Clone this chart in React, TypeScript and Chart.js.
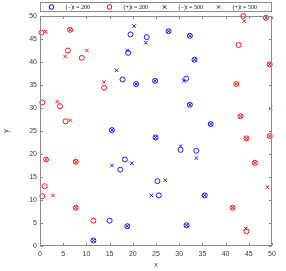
import React, { useEffect, useRef } from 'react';
import { Chart, registerables } from 'chart.js';

Chart.register(...registerables);

// ---- data ----
const legendLabels = ['(−)t = 200', '(+)t = 200', '(−)t = 500', '(+)t = 500'];
const axisMin = 0;
const axisMax = 50;
const tickStep = 5;

const negT200X = [19.5, 23.0, 19.0, 17.8, 20.7, 24.8, 15.5, 27.7, 32.3, 33.3, 31.5, 32.3, 36.8, 24.9, 30.3, 33.7, 25.3, 25.6, 35.5, 31.6, 15.0, 11.5, 18.8, 17.3, 18.3];
const negT200Y = [46.0, 45.4, 42.0, 36.2, 35.2, 35.9, 25.2, 46.7, 45.7, 40.5, 36.4, 30.7, 26.5, 23.6, 20.9, 20.7, 14.1, 11.0, 11.0, 4.5, 5.5, 1.2, 4.3, 16.6, 18.8];

const posT200X = [0.3, 6.5, 6.0, 9.0, 13.8, 4.3, 0.5, 5.5, 42.8, 43.8, 48.7, 49.5, 42.3, 43.2, 44.5, 49.5, 46.3, 41.5, 44.5, 1.3, 7.7, 1.0, 0.5, 7.7, 11.5];
const posT200Y = [46.4, 47.0, 42.5, 40.9, 34.4, 30.4, 31.2, 27.1, 43.7, 50.0, 49.6, 39.5, 35.2, 28.2, 23.4, 23.9, 18.1, 8.3, 3.2, 18.8, 18.3, 13.0, 10.8, 8.3, 5.5];

const negT500X = [20.3, 22.8, 18.8, 16.5, 20.7, 24.8, 15.5, 27.7, 32.3, 33.3, 31.0, 32.3, 36.8, 24.9, 30.3, 33.7, 27.0, 24.0, 35.5, 31.6, 11.5, 18.8, 15.5, 19.8];
const negT500Y = [47.8, 44.2, 42.5, 38.2, 35.2, 35.9, 25.2, 46.7, 45.7, 40.5, 35.9, 30.7, 26.5, 23.6, 21.7, 19.1, 14.3, 11.0, 11.0, 4.5, 1.2, 4.3, 17.5, 18.0];

const posT500X = [1.2, 6.5, 5.4, 10.1, 13.8, 3.7, 6.5, 44.0, 48.7, 49.5, 42.3, 49.7, 43.2, 44.5, 49.5, 46.3, 49.0, 41.5, 44.3, 1.3, 7.7, 2.8, 7.7];
const posT500Y = [46.6, 47.0, 41.2, 42.5, 35.6, 31.4, 27.3, 48.9, 49.6, 39.5, 35.2, 29.9, 28.2, 23.4, 23.9, 18.1, 12.8, 8.3, 3.8, 18.8, 18.3, 11.0, 8.3];

const toPoints = (xs: number[], ys: number[]) => xs.map((x, i) => ({ x, y: ys[i] }));

const BLUE = '#0000ff';
const RED = '#ff0000';
const AXIS = '#8a8a8a';
const TEXT = '#3a3a3a';
const SANS = '"Liberation Sans", Arial, Helvetica, sans-serif';
const SERIF = '"Liberation Serif", "DejaVu Serif", serif';

const seriesStyle = [
  { color: BLUE, style: 'circle' },
  { color: RED, style: 'circle' },
  { color: BLUE, style: 'crossRot' },
  { color: RED, style: 'crossRot' },
];

const boxPlugin = {
  id: 'matlabBox',
  afterDraw(chart: any) {
    const { ctx, chartArea: a, scales } = chart;
    const xs = scales.x;
    const ys = scales.y;
    ctx.save();
    ctx.strokeStyle = AXIS;
    ctx.lineWidth = 1;
    const L = Math.round(a.left) + 0.5;
    const R = Math.round(a.right) - 0.5;
    const T = Math.round(a.top) + 0.5;
    const B = Math.round(a.bottom) - 0.5;
    ctx.strokeRect(L, T, R - L, B - T);
    const tl = 2.5;
    ctx.beginPath();
    for (let v = axisMin; v <= axisMax; v += tickStep) {
      const px = Math.round(xs.getPixelForValue(v)) + 0.5;
      ctx.moveTo(px, B); ctx.lineTo(px, B - tl);
      ctx.moveTo(px, T); ctx.lineTo(px, T + tl);
      const py = Math.round(ys.getPixelForValue(v)) + 0.5;
      ctx.moveTo(L, py); ctx.lineTo(L + tl, py);
      ctx.moveTo(R, py); ctx.lineTo(R - tl, py);
    }
    ctx.stroke();

    // legend box
    const lgTop = 2.5;
    const lgBot = 11.5;
    ctx.fillStyle = '#ffffff';
    ctx.fillRect(L, lgTop, R - L, lgBot - lgTop);
    ctx.strokeStyle = AXIS;
    ctx.strokeRect(L, lgTop, R - L, lgBot - lgTop);
    const markerOffsets = [11, 69, 124, 178];
    const cy = (lgTop + lgBot) / 2;
    ctx.font = `6px ${SERIF}`;
    ctx.textBaseline = 'middle';
    ctx.textAlign = 'left';
    legendLabels.forEach((label, i) => {
      const mx = L + markerOffsets[i];
      const s = seriesStyle[i];
      ctx.strokeStyle = s.color;
      ctx.lineWidth = 1;
      ctx.beginPath();
      if (s.style === 'circle') {
        ctx.arc(mx, cy, 2.3, 0, Math.PI * 2);
      } else {
        const r = 1.7;
        ctx.moveTo(mx - r, cy - r); ctx.lineTo(mx + r, cy + r);
        ctx.moveTo(mx - r, cy + r); ctx.lineTo(mx + r, cy - r);
      }
      ctx.stroke();
      ctx.fillStyle = '#111111';
      ctx.fillText(label, mx + 14, cy + 0.5);
    });
    ctx.restore();
  },
};

export default function App() {
  const ref = useRef<HTMLCanvasElement | null>(null);
  useEffect(() => {
    document.body.style.margin = '0';
    const canvas = ref.current;
    if (!canvas) return;
    const seriesData = [
      toPoints(negT200X, negT200Y),
      toPoints(posT200X, posT200Y),
      toPoints(negT500X, negT500Y),
      toPoints(posT500X, posT500Y),
    ];
    const chart = new Chart(canvas, {
      type: 'scatter',
      data: {
        datasets: seriesData.map((d, i) => ({
          label: legendLabels[i],
          data: d,
          pointStyle: seriesStyle[i].style as any,
          pointRadius: 2.5,
          pointBorderWidth: 0.9,
          pointBorderColor: seriesStyle[i].color,
          pointBackgroundColor: 'rgba(0,0,0,0)',
          borderColor: seriesStyle[i].color,
          backgroundColor: 'rgba(0,0,0,0)',
          showLine: false,
          clip: false as any,
        })),
      },
      options: {
        animation: false,
        responsive: false,
        devicePixelRatio: 1,
        layout: { padding: { left: 0, right: 14, top: 16, bottom: 0 } },
        plugins: {
          legend: { display: false },
          tooltip: { enabled: false },
        },
        scales: {
          x: {
            type: 'linear',
            min: axisMin,
            max: axisMax,
            ticks: { stepSize: tickStep, color: TEXT, font: { family: SANS, size: 7 }, padding: 4, maxRotation: 0, autoSkip: false },
            grid: { display: false, drawTicks: false },
            border: { display: false },
            title: { display: true, text: 'x', color: TEXT, font: { family: SANS, size: 7 }, padding: { top: 0, bottom: 2 } },
            afterFit: (s: any) => { s.height = 25; },
          },
          y: {
            type: 'linear',
            min: axisMin,
            max: axisMax,
            ticks: { stepSize: tickStep, color: TEXT, font: { family: SANS, size: 7 }, padding: 3, autoSkip: false },
            grid: { display: false, drawTicks: false },
            border: { display: false },
            title: { display: true, text: 'y', color: TEXT, font: { family: SANS, size: 7 }, padding: { top: 2, bottom: 0 } },
            afterFit: (s: any) => { s.width = 40; },
          },
        },
      },
      plugins: [boxPlugin],
    });
    return () => chart.destroy();
  }, []);
  return (
    <div style={{ width: 286, height: 271, background: '#ffffff' }}>
      <canvas ref={ref} width={286} height={271} style={{ display: 'block' }} />
    </div>
  );
}
